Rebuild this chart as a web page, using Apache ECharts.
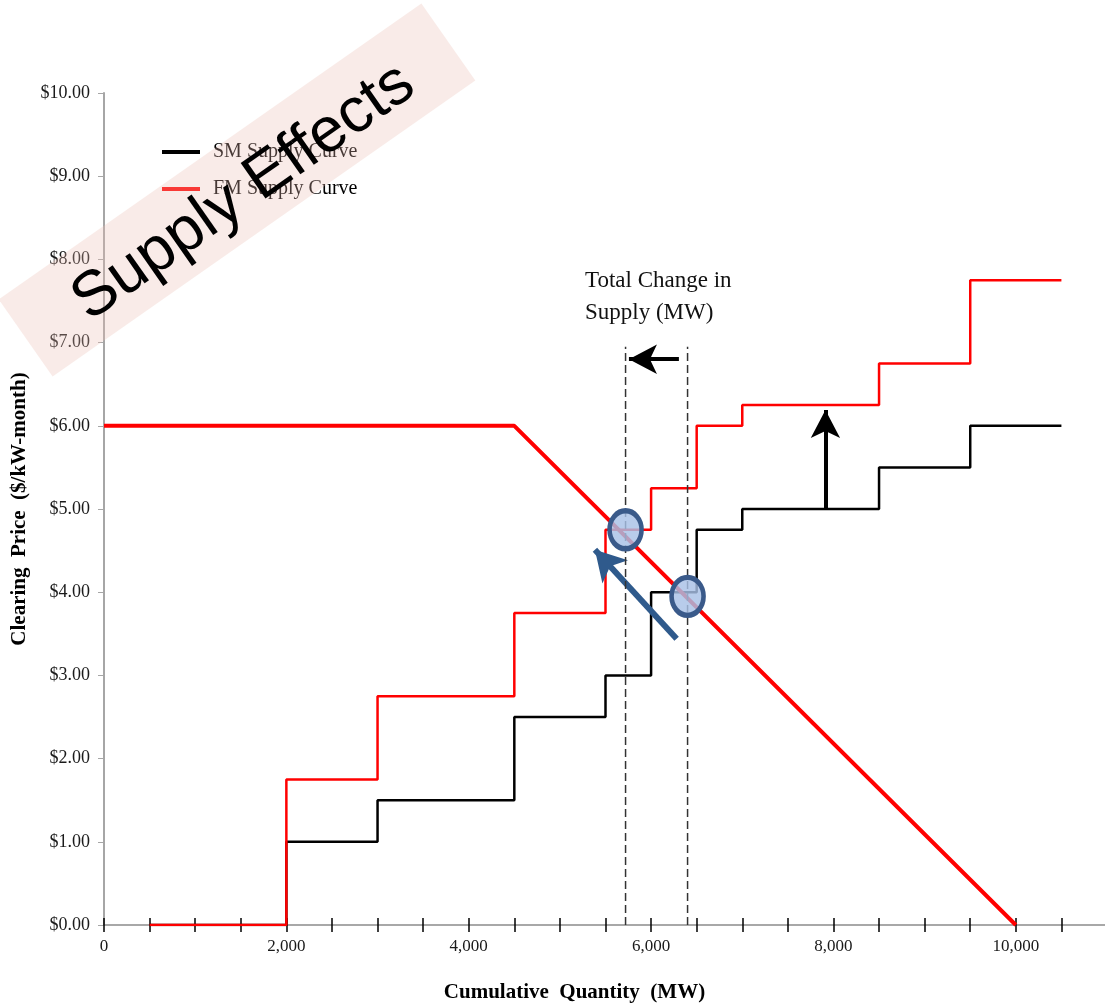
<!DOCTYPE html>
<html>
<head>
<meta charset="utf-8">
<script src="https://cdn.jsdelivr.net/npm/echarts@6/dist/echarts.min.js"></script>
<style>
  html, body { margin: 0; padding: 0; background: #fff; }
  #chart { width: 1105px; height: 1004px; }
</style>
</head>
<body>
<div id="chart"></div>
<script>
// demand curve (red, thick)
var demandQty = [0, 4500, 10000];
var demandPrice = [6, 6, 0];
// supply curves, step at each quantity (price holds until next quantity)
var smQty = [500, 2000, 3000, 4500, 5500, 6000, 6500, 7000, 8500, 9500, 10500];
var smPrice = [0, 1.0, 1.5, 2.5, 3.0, 4.0, 4.75, 5.0, 5.5, 6.0, 6.0];
var fmQty = [500, 2000, 3000, 4500, 5500, 6000, 6500, 7000, 8500, 9500, 10500];
var fmPrice = [0, 1.75, 2.75, 3.75, 4.75, 5.25, 6.0, 6.25, 6.75, 7.75, 7.75];
// clearing points + dashed guides
var clearQty = [5720, 6400];
var clearPrice = [4.75, 3.95];
var guideTop = 6.95;
// annotation arrows [from, to]
var shiftArrow = [[6305, 6.8], [5757, 6.8]];
var upArrow = [[7912, 5.0], [7912, 6.19]];
var moveArrow = [[6280, 3.44], [5384, 4.51]];

var serif = '"Liberation Serif", "Times New Roman", serif';

function zip(a, b) {
  return a.map(function (v, i) { return [v, b[i]]; });
}

var chart = echarts.init(document.getElementById('chart'));

var series = [
  {
    name: 'SM Supply Curve',
    type: 'line',
    step: 'end',
    data: zip(smQty, smPrice),
    symbol: 'none',
    lineStyle: { color: '#000', width: 2.5 },
    itemStyle: { color: '#000' },
    z: 2
  },
  {
    name: 'FM Supply Curve',
    type: 'line',
    step: 'end',
    data: zip(fmQty, fmPrice),
    symbol: 'none',
    lineStyle: { color: '#ff0000', width: 2.5 },
    itemStyle: { color: '#ff0000' },
    z: 3
  },
  {
    name: 'Demand',
    type: 'line',
    data: zip(demandQty, demandPrice),
    symbol: 'none',
    lineStyle: { color: '#ff0000', width: 4 },
    z: 4
  }
];

// dashed guide lines
clearQty.forEach(function (q) {
  series.push({
    type: 'line',
    data: [[q, 0], [q, guideTop]],
    symbol: 'none',
    lineStyle: { color: '#333', width: 1.5, type: [8, 4] },
    z: 5
  });
});

series.push({
  type: 'scatter',
  data: zip(clearQty, clearPrice),
  symbol: 'circle',
  symbolSize: [32, 38],
  itemStyle: {
    color: 'rgba(168,193,230,0.82)',
    borderColor: '#3a5a8a',
    borderWidth: 5,
    opacity: 1
  },
  z: 8
});

// black arrows
series.push({
  type: 'line',
  data: [],
  markLine: {
    silent: true,
    animation: false,
    symbol: ['none', 'arrow'],
    symbolSize: [22, 28],
    label: { show: false },
    lineStyle: { color: '#000', width: 4, type: 'solid' },
    data: [
      [{ coord: shiftArrow[0] }, { coord: shiftArrow[1] }],
      [{ coord: upArrow[0] }, { coord: upArrow[1] }]
    ]
  },
  z: 9
});

// blue arrow
series.push({
  type: 'line',
  data: [],
  markLine: {
    silent: true,
    animation: false,
    symbol: ['none', 'arrow'],
    symbolSize: [26, 30],
    label: { show: false },
    lineStyle: { color: '#2f5a8c', width: 6, type: 'solid' },
    data: [
      [{ coord: moveArrow[0] }, { coord: moveArrow[1] }]
    ]
  },
  z: 9
});

var option = {
  animation: false,
  backgroundColor: '#fff',
  title: {
    text: 'Total Change in\nSupply (MW)',
    left: 580,
    top: 260,
    textStyle: {
      fontFamily: serif,
      fontSize: 23,
      fontWeight: 'normal',
      color: '#111',
      lineHeight: 32
    }
  },
  legend: {
    data: ['SM Supply Curve', 'FM Supply Curve'],
    orient: 'vertical',
    left: 157,
    top: 137,
    icon: 'rect',
    itemWidth: 38,
    itemHeight: 4,
    itemGap: 17,
    textStyle: {
      fontFamily: serif,
      fontSize: 20,
      color: '#000',
      padding: [0, 0, 0, 8]
    }
  },
  grid: { left: 104, top: 93, width: 1003, height: 832, outerBoundsMode: 'none', containLabel: false },
  xAxis: [
    {
      type: 'value',
      min: 0,
      max: 11000,
      interval: 500,
      name: 'Cumulative  Quantity  (MW)',
      nameLocation: 'middle',
      nameGap: 57,
      nameTextStyle: {
        fontFamily: serif,
        fontSize: 21,
        fontWeight: 'bold',
        color: '#000',
        padding: [0, 62, 0, 0]
      },
      axisLine: { show: true, onZero: false, lineStyle: { color: '#8c8c8c', width: 1.5 } },
      axisTick: { show: true, length: 7, lineStyle: { color: '#000', width: 1.5 } },
      splitLine: { show: false },
      axisLabel: {
        margin: 13,
        fontFamily: serif,
        fontSize: 17,
        color: '#1a1a1a',
        formatter: function (v) {
          return (v % 2000 === 0 && v <= 10000) ? v.toLocaleString('en-US') : '';
        }
      }
    },
    {
      type: 'value',
      min: 0,
      max: 11000,
      interval: 500,
      position: 'bottom',
      axisLine: { show: false, onZero: false },
      axisTick: { show: true, inside: true, length: 7, lineStyle: { color: '#000', width: 1.5 } },
      axisLabel: { show: false },
      splitLine: { show: false }
    }
  ],
  yAxis: {
    type: 'value',
    min: 0,
    max: 10,
    interval: 1,
    name: 'Clearing  Price  ($/kW-month)',
    nameLocation: 'middle',
    nameGap: 72,
    nameTextStyle: {
      fontFamily: serif,
      fontSize: 21,
      fontWeight: 'bold',
      color: '#000'
    },
    axisLine: { show: true, lineStyle: { color: '#a6a6a6', width: 2 } },
    axisTick: { show: true, length: 6, lineStyle: { color: '#a6a6a6', width: 1 } },
    splitLine: { show: false },
    axisLabel: {
      margin: 14,
      fontFamily: serif,
      fontSize: 18,
      color: '#1a1a1a',
      formatter: function (v) { return '$' + v.toFixed(2); }
    }
  },
  graphic: [
    {
      type: 'group',
      x: 237,
      y: 190,
      rotation: 35 * Math.PI / 180,
      z: 100,
      children: [
        {
          type: 'rect',
          z: 100,
          shape: { x: -258, y: -47, width: 516, height: 94 },
          style: { fill: 'rgba(236,190,178,0.3)' }
        },
        {
          type: 'text',
          z: 101,
          x: 4,
          y: 6,
          style: {
            text: 'Supply Effects',
            font: '63px "Liberation Sans", Arial, sans-serif',
            fill: '#000',
            textAlign: 'center',
            textVerticalAlign: 'middle'
          }
        }
      ]
    }
  ],
  series: series
};

chart.setOption(option);
</script>
</body>
</html>
